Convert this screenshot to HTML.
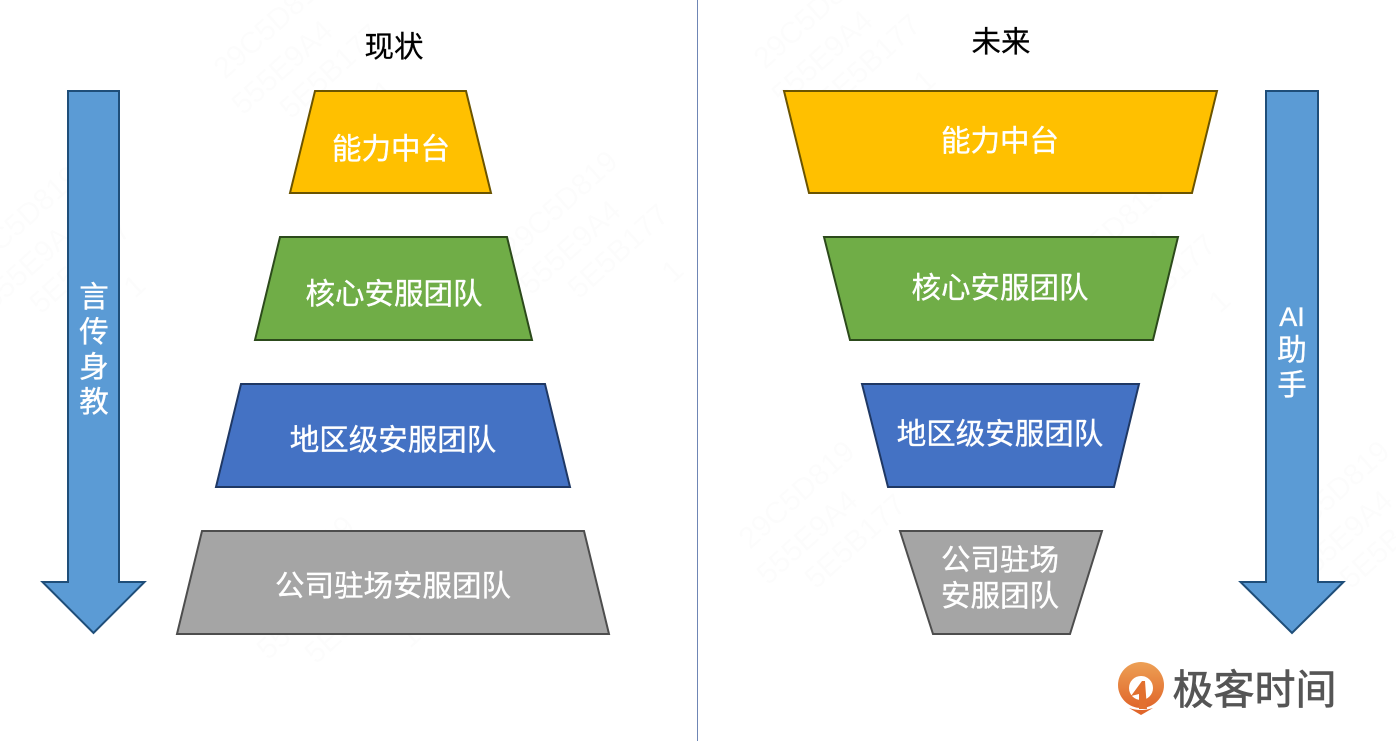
<!DOCTYPE html>
<html><head><meta charset="utf-8"><style>
html,body{margin:0;padding:0;background:#fff;width:1396px;height:741px;overflow:hidden}
svg{display:block}
text{font-family:"Liberation Sans","Noto Sans CJK SC",sans-serif;text-anchor:middle}
.w{fill:#fff;stroke:#fff;stroke-width:.35px;font-size:29.5px}
.b{fill:#000;stroke:#000;stroke-width:.25px;font-size:29.5px}
.m text{text-anchor:start;font-size:30px;fill:#000;fill-opacity:.01}
</style></head><body>
<svg width="1396" height="741" viewBox="0 0 1396 741" xmlns="http://www.w3.org/2000/svg">
<rect width="1396" height="741" fill="#fff"/>

<defs>
<linearGradient id="g" x1="0" y1="0" x2="0" y2="1"><stop offset="0" stop-color="#eda055"/><stop offset="1" stop-color="#e0662a"/></linearGradient>
<g id="mark" class="m">
<text transform="rotate(-42)" x="0" y="0">29C5D819</text>
<text transform="translate(18,36) rotate(-42)" x="0" y="0">555E9A4</text>
<text transform="translate(66,40) rotate(-42)" x="0" y="0">5E5B177</text>
<text transform="translate(160,24) rotate(-42)" x="0" y="0">1</text>
</g>
</defs>

<use href="#mark" x="513" y="260"/>
<use href="#mark" x="-25" y="275"/>
<use href="#mark" x="225" y="80"/>
<use href="#mark" x="765" y="70"/>
<use href="#mark" x="250" y="625"/>
<use href="#mark" x="750" y="550"/>
<use href="#mark" x="1060" y="290"/>
<use href="#mark" x="1285" y="550"/>

<line x1="697.5" y1="0" x2="697.5" y2="741" stroke="#6f86b5" stroke-width="1"/>

<text class="b" x="394" y="57">现状</text>
<text class="b" x="1001" y="52">未来</text>

<polygon points="68,91 119,91 119,582 144.5,582 93.5,633 42.5,582 68,582" fill="#5b9bd5" stroke="#1f4e79" stroke-width="2"/>
<polygon points="1266,91 1318,91 1318,582 1343.5,582 1292,633 1240.5,582 1266,582" fill="#5b9bd5" stroke="#1f4e79" stroke-width="2"/>

<text class="w" x="94" y="307">言</text>
<text class="w" x="94" y="342">传</text>
<text class="w" x="94" y="377">身</text>
<text class="w" x="94" y="412">教</text>

<text class="w" x="1292" y="326" style="font-size:27px">AI</text>
<text class="w" x="1292" y="360">助</text>
<text class="w" x="1292" y="395">手</text>

<g stroke-width="2" stroke-linejoin="miter">
<polygon points="315,91 466,91 491,193 290,193" fill="#ffc000" stroke="#6b5400"/>
<polygon points="280,237 507,237 532,340 255,340" fill="#70ad47" stroke="#2c4a1b"/>
<polygon points="241,384 545,384 570,487 216,487" fill="#4472c4" stroke="#1f3864"/>
<polygon points="202,531 584,531 609,634 177,634" fill="#a5a5a5" stroke="#4d4d4d"/>

<polygon points="784,91 1217,91 1192,193 809,193" fill="#ffc000" stroke="#6b5400"/>
<polygon points="824,237 1178,237 1153,340 850,340" fill="#70ad47" stroke="#2c4a1b"/>
<polygon points="862,384 1139,384 1114,487 888,487" fill="#4472c4" stroke="#1f3864"/>
<polygon points="900,531 1102,531 1070,634 933,634" fill="#a5a5a5" stroke="#4d4d4d"/>
</g>

<text class="w" x="391" y="159">能力中台</text>
<text class="w" x="394" y="304">核心安服团队</text>
<text class="w" x="393" y="450">地区级安服团队</text>
<text class="w" x="393" y="596">公司驻场安服团队</text>

<text class="w" x="1000" y="151">能力中台</text>
<text class="w" x="1000" y="298">核心安服团队</text>
<text class="w" x="1000" y="444">地区级安服团队</text>
<text class="w" x="1000" y="570">公司驻场</text>
<text class="w" x="1000" y="606">安服团队</text>

<circle cx="1141" cy="685" r="23" fill="url(#g)"/>
<circle cx="1141" cy="688" r="12" fill="#fff"/>
<polygon points="1142,681 1131,696 1139,694 1139,709 1147,709 1145,681" fill="#e2702f"/>
<path d="M1129 708 Q1141 712 1153 708 L1141 715 Z" fill="#e0662a"/>
<text x="1254.5" y="704" style="font-size:41px;stroke:#555;stroke-width:.7px" fill="#555">极客时间</text>
</svg>
</body></html>
